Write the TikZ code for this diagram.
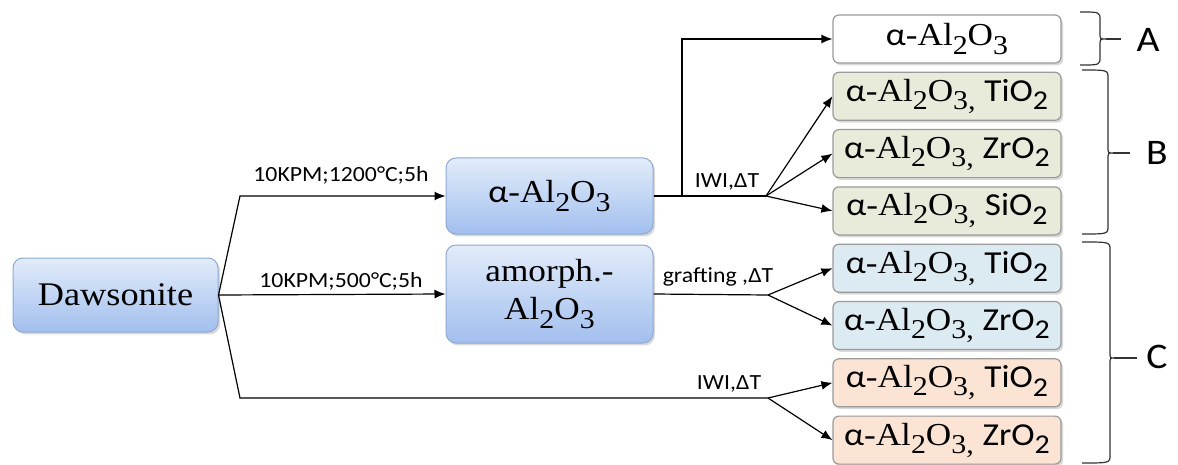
\documentclass[tikz,border=0pt]{standalone}
\usepackage{fontspec}
\setmainfont{Liberation Serif}[FakeStretch=1.1]
\setsansfont{Carlito}[FakeStretch=1.1]
\usetikzlibrary{arrows.meta,shadows}

\definecolor{bluetop}{HTML}{E2ECFA}
\definecolor{bluebot}{HTML}{A2BFEE}
\definecolor{blueline}{HTML}{8FA8D2}
\definecolor{olivefill}{HTML}{E8EBDA}
\definecolor{skyfill}{HTML}{DCEAF2}
\definecolor{peachfill}{HTML}{FBE4D4}
\definecolor{boxline}{HTML}{9A9A9A}

% lowered, slightly reduced index
\newcommand\sbs[1]{\raisebox{-0.55ex}{\scalebox{0.85}{#1}}}
\newcommand\alumina{{\sffamily α}-Al\sbs{2}O\sbs{3}}
\newcommand\mixed[1]{{\sffamily α}-Al\sbs{2}O\sbs{3,}\ {\sffamily #1}}
% curly bracket: ends at x=#1 from y=#2 to y=#3, spine at #4, point at #5 (height #6)
\newcommand\grpbrace[6]{%
  \draw[grp] (#1,#2) .. controls (#4,#2) .. (#4,{#2+8})
    -- (#4,{#6-6}) .. controls (#4,#6) .. (#5,#6)
    .. controls (#4,#6) .. (#4,{#6+6})
    -- (#4,{#3-8}) .. controls (#4,#3) .. (#1,#3);}

\begin{document}
\begin{tikzpicture}[x=0.5pt,y=-0.5pt,
  stage/.style={rounded corners=5pt, draw=blueline, line width=0.5pt,
    top color=bluetop, bottom color=bluebot,
    drop shadow={shadow xshift=1pt, shadow yshift=-1.2pt, opacity=0.3},
    font=\fontsize{16}{19}\selectfont, align=center, inner sep=0pt},
  product/.style={rounded corners=3pt, draw=boxline, line width=0.6pt,
    minimum width=114pt, minimum height=24pt, inner sep=0pt,
    drop shadow={shadow xshift=1pt, shadow yshift=-1.2pt, opacity=0.3},
    font=\fontsize{16}{19}\selectfont},
  flow/.style={line width=0.6pt, -{Latex[length=5.5pt,width=4.5pt]}},
  plain/.style={line width=0.6pt},
  lbl/.style={font=\sffamily\fontsize{10.8}{12}\selectfont, inner sep=1pt},
  grp/.style={draw=black!80, line width=0.6pt},
  grpl/.style={font=\sffamily\fontsize{18}{20}\selectfont, inner sep=0pt}]

\useasboundingbox (0,0) rectangle (1178,465);

% precursor and calcined intermediates
\node[stage, minimum width=102.5pt, minimum height=37pt,
      font=\fontsize{16.5}{19}\selectfont] (daw) at (115.5,295) {Dawsonite};
\node[stage, minimum width=103.5pt, minimum height=38pt] (alpha) at (549.5,196) {\alumina};
\node[stage, minimum width=103.5pt, minimum height=49pt] (amor) at (549.5,294) {amorph.-\\Al\sbs{2}O\sbs{3}};

% final materials
\node[product, fill=white]     (pa)  at (947,39)    {\alumina};
\node[product, fill=olivefill] (pb1) at (947,96.3)  {\mixed{TiO\sbs{2}}};
\node[product, fill=olivefill] (pb2) at (947,153.6) {\mixed{ZrO\sbs{2}}};
\node[product, fill=olivefill] (pb3) at (947,210.9) {\mixed{SiO\sbs{2}}};
\node[product, fill=skyfill]   (pc1) at (947,268.2) {\mixed{TiO\sbs{2}}};
\node[product, fill=skyfill]   (pc2) at (947,325.5) {\mixed{ZrO\sbs{2}}};
\node[product, fill=peachfill] (pc3) at (947,382.8) {\mixed{TiO\sbs{2}}};
\node[product, fill=peachfill] (pc4) at (947,440.1) {\mixed{ZrO\sbs{2}}};

% bends and forks of the routes
\coordinate (up)    at (240,196);
\coordinate (down)  at (240,398);
\coordinate (tapA)  at (682,196);
\coordinate (fork1) at (766,196);
\coordinate (fork2) at (768,295);
\coordinate (fork3) at (768,398);

% calcination routes
\draw[flow]  (daw.east) -- (up) -- (alpha.west);
\draw[flow]  (daw.east) -- (amor.west);
\draw[plain] (daw.east) -- (down) -- (fork3);

% from alpha alumina
\draw[plain] (alpha.east) -- (fork1);
\draw[flow]  (tapA) |- (pa.west);
\draw[flow]  (fork1) -- (pb1.west);
\draw[flow]  (fork1) -- (pb2.west);
\draw[flow]  (fork1) -- (pb3.west);

% from amorphous alumina
\draw[plain] (amor.east) -- (fork2);
\draw[flow]  (fork2) -- (pc1.west);
\draw[flow]  (fork2) -- (pc2.west);

% direct impregnation
\draw[flow]  (fork3) -- (pc3.west);
\draw[flow]  (fork3) -- (pc4.west);

% route labels
\node[lbl] (l1) at (341,175) {10KPM;1200°C;5h};
\node[lbl] (l2) at (341,281) {10KPM;500°C;5h};
\node[lbl] (l3) at (727,182) {IWI,ΔT};
\node[lbl] (l4) at (718,277) {grafting ,ΔT};
\node[lbl] (l5) at (729,384) {IWI,ΔT};

% groups
\grpbrace{1080}{12}{65}{1100}{1106}{39}
\grpbrace{1082}{70}{234}{1108}{1113}{153}
\grpbrace{1082}{242}{463}{1110}{1114}{358}
\node[grpl] (gA) at (1148,40)  {A};
\node[grpl] (gB) at (1157,153) {B};
\node[grpl] (gC) at (1157,357) {C};
\coordinate (tipA) at (1106,39);
\coordinate (tipB) at (1113,153);
\coordinate (tipC) at (1114,358);
\draw[grp] (tipA) -- (1121,39);
\draw[grp] (tipB) -- (1130,153);
\draw[grp] (tipC) -- (1137,358);
\end{tikzpicture}
\end{document}
